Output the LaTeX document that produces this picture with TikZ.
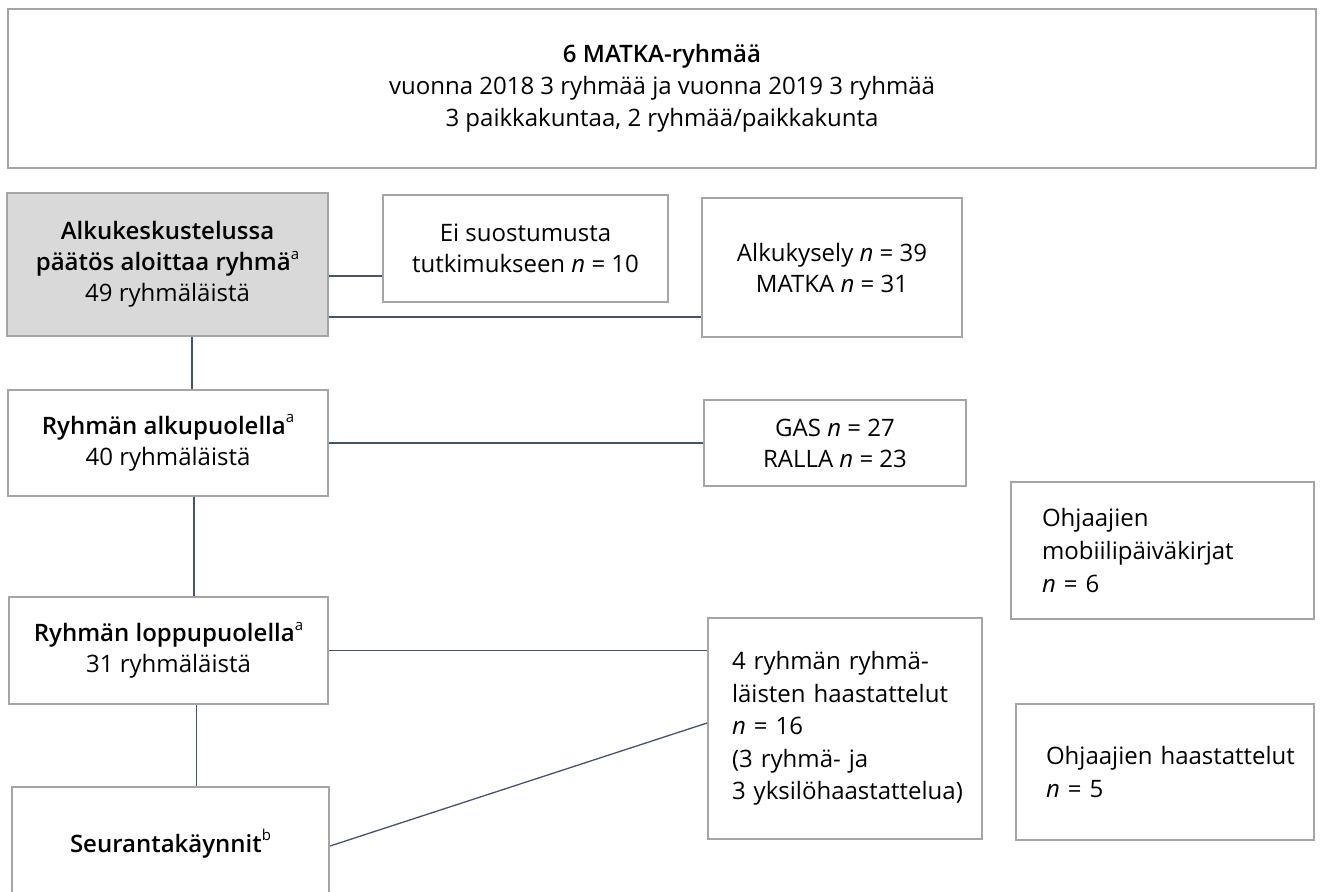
\documentclass[tikz,border=0pt]{standalone}
\usepackage{fontspec}
\setmainfont{Open Sans}
\IfFontExistsTF{Open Sans SemiBold}{\newfontfamily\semibf{Open Sans SemiBold}}{%
  \IfFontExistsTF{Open Sans Semibold}{\newfontfamily\semibf{Open Sans Semibold}}{%
    \IfFontExistsTF{OpenSans-SemiBold}{\newfontfamily\semibf{OpenSans-SemiBold}}{%
      \newfontfamily\semibf{Open Sans}[FakeBold=1.3]}}}
\definecolor{boxline}{HTML}{A5A5A5}
\definecolor{grayfill}{HTML}{D9D9D9}
\definecolor{connc}{HTML}{44546A}
\newcommand\sps[1]{\raisebox{0.9ex}{\rmfamily\mdseries\fontsize{7.5}{7.5}\selectfont #1}}
\tikzset{
  box/.style={draw=boxline, line width=1pt, rectangle, inner sep=2pt, align=center,
    font=\fontsize{12}{15.5}\selectfont, text=black},
  lbox/.style={box, align=left},
  link/.style={draw=connc, line width=0.65pt},
}
\begin{document}
\begin{tikzpicture}[x=0.5pt,y=-0.5pt]
\useasboundingbox (0,0) rectangle (1320,891);
\node[box, minimum width=654pt, minimum height=79.5pt, font=\fontsize{12}{16}\selectfont] (top) at (662,88.5)
  {{\semibf 6 MATKA-ryhmää}\\vuonna 2018 3 ryhmää ja vuonna 2019 3 ryhmää\\3 paikkakuntaa, 2 ryhmää/paikkakunta};
\node[box, fill=grayfill, minimum width=160.5pt, minimum height=71.5pt] (gray) at (167.5,264.5)
  {{\semibf Alkukeskustelussa}\\{\semibf päätös aloittaa ryhmä}\sps{a}\\49 ryhmäläistä};
\node[box, minimum width=142.5pt, minimum height=53.5pt] (ei) at (525.5,248.5)
  {Ei suostumusta\\tutkimukseen \textit{n} = 10};
\node[box, minimum width=130pt, minimum height=69.5pt] (alkuk) at (832,267.5)
  {Alkukysely \textit{n} = 39\\MATKA \textit{n} = 31};
\node[box, minimum width=160pt, minimum height=53pt] (alku) at (168,443)
  {{\semibf Ryhmän alkupuolella}\sps{a}\\40 ryhmäläistä};
\node[box, minimum width=131pt, minimum height=43pt] (gas) at (835,443)
  {GAS \textit{n} = 27\\RALLA \textit{n} = 23};
\node[lbox, inner xsep=15.5pt, text width=120.5pt, minimum height=68.5pt, font=\fontsize{12}{16.5}\selectfont] (mobi) at (1162.5,550.5)
  {\mbox{Ohjaajien}\\\mbox{mobiilipäiväkirjat}\\\mbox{\textit{n} = 6}};
\node[box, minimum width=159.5pt, minimum height=53.5pt] (loppu) at (168.5,650.5)
  {{\semibf Ryhmän loppupuolella}\sps{a}\\31 ryhmäläistä};
\node[lbox, inner xsep=12pt, text width=113pt, minimum height=110.5pt, font=\fontsize{12}{16.25}\selectfont] (r4) at (845,728.5)
  {\mbox{4 ryhmän ryhmä-}\\\mbox{läisten haastattelut}\\\mbox{\textit{n} = 16}\\\mbox{(3 ryhmä- ja}\\\mbox{3 yksilöhaastattelua)}};
\node[lbox, inner xsep=15pt, text width=119pt, minimum height=68pt, font=\fontsize{12}{16.5}\selectfont] (ohj) at (1165,772)
  {\mbox{Ohjaajien haastattelut}\\\mbox{\textit{n} = 5}};
\node[box, minimum width=158.5pt, minimum height=56.5pt] (seur) at (170.5,843.5)
  {{\semibf Seurantakäynnit}\sps{b}};
% connectors
\draw[link] ([yshift=-5.75pt]gray.east) -- ([yshift=-5.75pt]gray.east -| ei.west);
\draw[link] ([yshift=-26.25pt]gray.east) -- ([yshift=-26.25pt]gray.east -| alkuk.west);
\draw[link] ([xshift=12.25pt]gray.south) -- ([xshift=12.25pt]gray.south |- alku.north);
\draw[link] (alku.east) -- (alku.east -| gas.west);
\draw[link] ([xshift=13pt]alku.south) -- ([xshift=13pt]alku.south |- loppu.north);
\draw[link] (loppu.east) -- (loppu.east -| r4.west);
\draw[link] ([xshift=14pt]loppu.south) -- ([xshift=14pt]loppu.south |- seur.north);
\draw[link] ([yshift=-1.25pt]seur.east) -- ([yshift=2.75pt]r4.west);
\end{tikzpicture}
\end{document}
